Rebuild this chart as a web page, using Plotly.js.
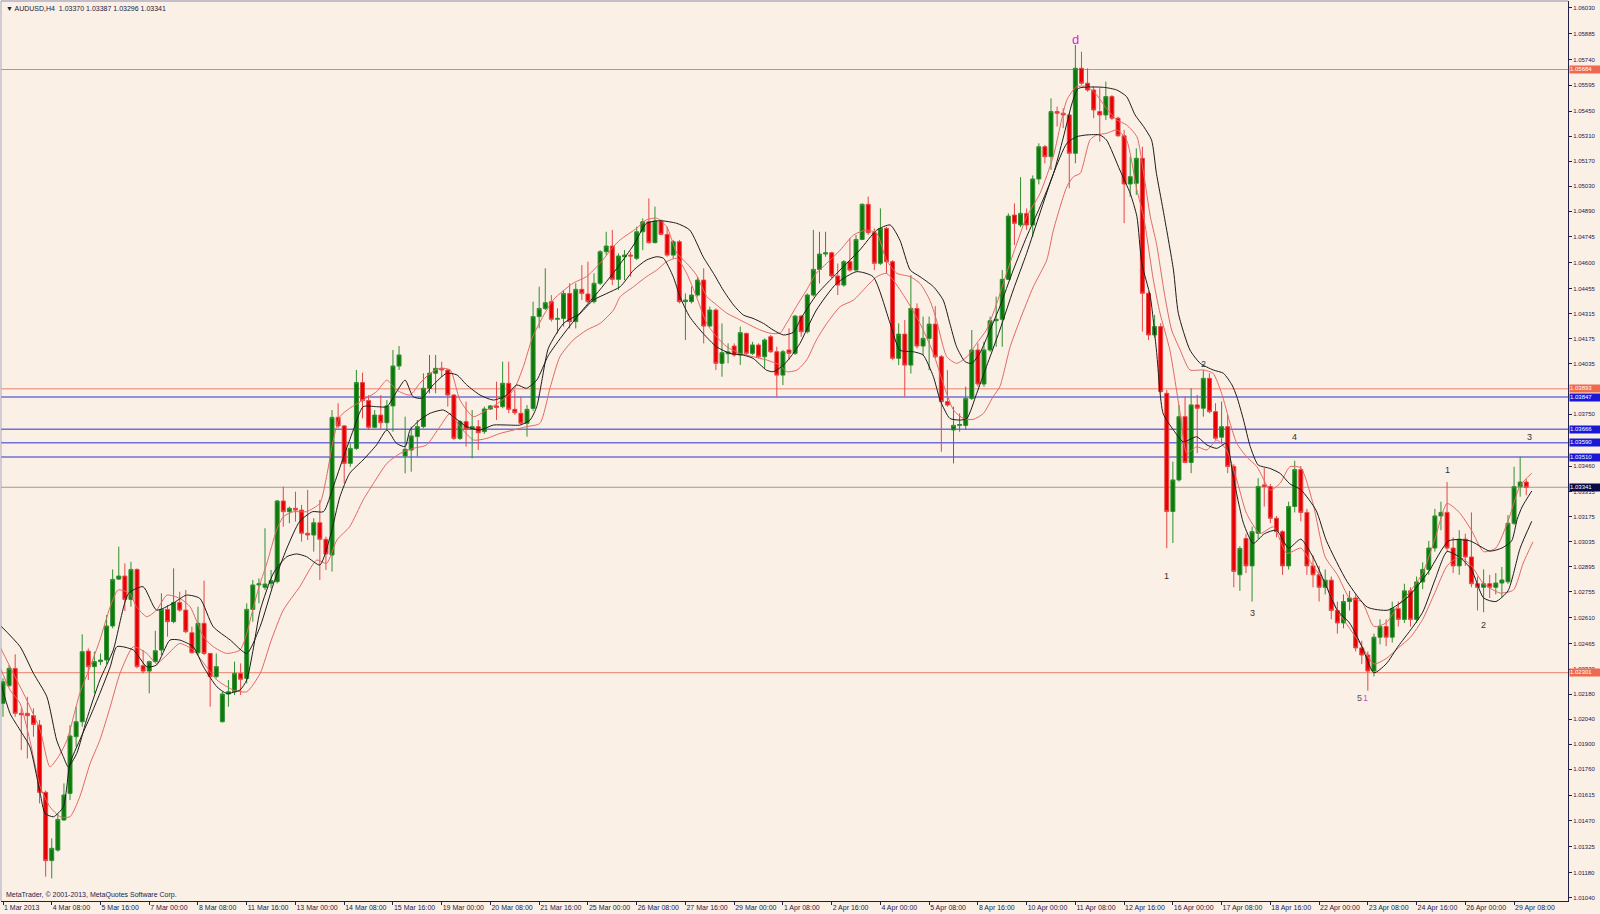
<!DOCTYPE html>
<html><head><meta charset="utf-8">
<script src="https://cdn.plot.ly/plotly-3.0.1.min.js"></script>
<style>html,body{margin:0;padding:0;background:#faf0e6;}#chart{width:1600px;height:914px;}</style>
</head><body><div id="chart"></div>
<script>
// ---- AUDUSD H4 bars, 1 Mar 2013 00:00 .. 29 Apr 2013 16:00 (bar index 0..250) ----
const opens = [
1.02129,1.02228,1.02325,1.02073,1.02073,1.02060,1.02007,1.01630,1.01247,1.01306,
1.01475,1.01624,1.01942,1.02026,1.02422,1.02335,1.02363,1.02372,1.02563,1.02826,
1.02843,1.02712,1.02880,1.02340,1.02310,1.02363,1.02428,1.02656,1.02587,1.02694,
1.02652,1.02525,1.02413,1.02578,1.02409,1.02279,1.02026,1.02181,1.02194,1.02297,
1.02269,1.02656,1.02793,1.02780,1.02802,1.02812,1.03264,1.03204,1.03223,1.03213,
1.03083,1.03073,1.03142,1.03049,1.02961,1.03733,1.03685,1.03475,1.03559,1.03928,
1.03827,1.03677,1.03746,1.03703,1.03797,1.04021,1.03516,1.03550,1.03625,1.03681,
1.03896,1.03980,1.04008,1.03999,1.03858,1.03615,1.03709,1.03666,1.03681,1.03653,
1.03780,1.03797,1.03793,1.03924,1.03778,1.03756,1.03700,1.03783,1.04298,1.04344,
1.04382,1.04283,1.04288,1.04428,1.04270,1.04451,1.04425,1.04382,1.04485,1.04662,
1.04694,1.04507,1.04634,1.04643,1.04625,1.04774,1.04830,1.04713,1.04834,1.04759,
1.04643,1.04718,1.04382,1.04382,1.04419,1.04503,1.04245,1.04335,1.04036,1.04090,
1.04133,1.04083,1.04204,1.04092,1.04139,1.04073,1.04185,1.04101,1.03970,1.04111,
1.04092,1.04301,1.04213,1.04419,1.04563,1.04649,1.04656,1.04526,1.04475,1.04606,
1.04559,1.04731,1.04928,1.04769,1.04597,1.04793,1.04606,1.04064,1.04200,1.04026,
1.04344,1.04133,1.04176,1.04256,1.04073,1.03821,1.03662,1.03688,1.03688,1.03839,
1.04111,1.03920,1.04111,1.04275,1.04283,1.04507,1.04868,1.04812,1.04877,1.04812,
1.05070,1.05251,1.05195,1.05448,1.05439,1.05429,1.05214,1.05691,1.05607,1.05569,
1.05448,1.05429,1.05532,1.05411,1.05312,1.05042,1.05046,1.05186,1.04429,1.04195,
1.04242,1.03868,1.03205,1.03382,1.03737,1.03480,1.03803,1.03784,1.03952,1.03765,
1.03622,1.03681,1.03457,1.02850,1.03054,1.02900,1.03083,1.03354,1.03345,1.03167,
1.03092,1.02900,1.03233,1.03440,1.03200,1.02900,1.02850,1.02780,1.02820,1.02650,
1.02580,1.02700,1.02720,1.02440,1.02400,1.02310,1.02500,1.02560,1.02500,1.02660,
1.02600,1.02760,1.02600,1.02810,1.02880,1.03000,1.03180,1.03200,1.03000,1.02900,
1.03050,1.02950,1.02800,1.02780,1.02800,1.02780,1.02804,1.02811,1.03139,1.03344,
1.03370];
const highs = [
1.02269,1.02344,1.02404,1.02101,1.02166,1.02101,1.02035,1.01640,1.01372,1.01512,
1.01680,1.02007,1.02110,1.02516,1.02437,1.02419,1.02409,1.02624,1.02880,1.03008,
1.02914,1.02923,1.02886,1.02428,1.02368,1.02536,1.02746,1.02680,1.02886,1.02755,
1.02765,1.02559,1.02671,1.02817,1.02412,1.02409,1.02194,1.02260,1.02363,1.02353,
1.02690,1.02821,1.02830,1.03111,1.02877,1.03270,1.03344,1.03232,1.03316,1.03242,
1.03326,1.03167,1.03270,1.03064,1.03774,1.03812,1.03690,1.03587,1.03999,1.03984,
1.03858,1.03774,1.03858,1.03830,1.04111,1.04133,1.03737,1.03681,1.03718,1.03980,
1.04083,1.04083,1.04045,1.04002,1.03862,1.03718,1.03821,1.03774,1.03718,1.03793,
1.03802,1.03933,1.04045,1.04045,1.03886,1.03849,1.03802,1.04382,1.04466,1.04569,
1.04419,1.04344,1.04447,1.04485,1.04485,1.04587,1.04606,1.04541,1.04671,1.04774,
1.04784,1.04653,1.04671,1.04662,1.04802,1.04849,1.04961,1.04915,1.04843,1.04802,
1.04728,1.04728,1.04428,1.04466,1.04522,1.04569,1.04354,1.04344,1.04260,1.04148,
1.04148,1.04242,1.04208,1.04157,1.04148,1.04176,1.04195,1.04129,1.04111,1.04232,
1.04307,1.04307,1.04428,1.04784,1.04774,1.04774,1.04662,1.04596,1.04615,1.04737,
1.04756,1.04933,1.04971,1.04793,1.04905,1.04802,1.04615,1.04260,1.04279,1.04531,
1.04372,1.04298,1.04298,1.04357,1.04083,1.03998,1.03793,1.03755,1.03905,1.04223,
1.04148,1.04157,1.04298,1.04410,1.04559,1.04877,1.04933,1.05080,1.04905,1.05090,
1.05270,1.05261,1.05522,1.05476,1.05467,1.05439,1.05822,1.05784,1.05691,1.05588,
1.05579,1.05616,1.05541,1.05420,1.05345,1.05195,1.05242,1.05251,1.04438,1.04308,
1.04261,1.03887,1.03485,1.03803,1.03850,1.03896,1.03859,1.03999,1.03980,1.03812,
1.03822,1.03747,1.03470,1.03010,1.03080,1.03120,1.03392,1.03448,1.03360,1.03180,
1.03100,1.03260,1.03490,1.03460,1.03220,1.02960,1.02900,1.02880,1.02840,1.02700,
1.02740,1.02760,1.02740,1.02480,1.02420,1.02520,1.02600,1.02600,1.02700,1.02700,
1.02800,1.02780,1.02840,1.02920,1.03040,1.03220,1.03260,1.03370,1.03060,1.03100,
1.03080,1.03200,1.02840,1.02880,1.02850,1.02860,1.02894,1.03185,1.03456,1.03512,
1.03387];
const lows = [
1.02054,1.02222,1.02054,1.01867,1.01820,1.01942,1.01568,1.01157,1.01147,1.01297,
1.01470,1.01587,1.01886,1.01998,1.02260,1.02185,1.02344,1.02350,1.02550,1.02821,
1.02647,1.02671,1.02325,1.02297,1.02185,1.02357,1.02400,1.02503,1.02578,1.02643,
1.02522,1.02409,1.02400,1.02400,1.02110,1.02269,1.02021,1.02110,1.02176,1.02176,
1.02241,1.02587,1.02690,1.02765,1.02774,1.02802,1.03120,1.03139,1.03148,1.03036,
1.03045,1.02980,1.02821,1.02877,1.02868,1.03672,1.03363,1.03456,1.03550,1.03728,
1.03662,1.03672,1.03666,1.03662,1.03653,1.03999,1.03419,1.03428,1.03513,1.03672,
1.03868,1.03868,1.03960,1.03793,1.03606,1.03606,1.03569,1.03503,1.03550,1.03640,
1.03775,1.03718,1.03784,1.03756,1.03747,1.03690,1.03625,1.03770,1.04232,1.04335,
1.04270,1.04204,1.04242,1.04232,1.04232,1.04391,1.04372,1.04372,1.04475,1.04643,
1.04475,1.04447,1.04503,1.04522,1.04615,1.04671,1.04708,1.04708,1.04755,1.04634,
1.04625,1.04372,1.04167,1.04372,1.04410,1.04148,1.04240,1.03998,1.03961,1.04036,
1.04073,1.04027,1.04083,1.04083,1.04064,1.04008,1.04095,1.03849,1.03914,1.04055,
1.04083,1.04185,1.04204,1.04410,1.04484,1.04634,1.04513,1.04419,1.04466,1.04550,
1.04550,1.04727,1.04756,1.04559,1.04588,1.04541,1.04055,1.04026,1.03849,1.03979,
1.04120,1.04083,1.03998,1.04064,1.03540,1.03793,1.03475,1.03653,1.03662,1.03830,
1.03905,1.03905,1.04101,1.04129,1.04129,1.04503,1.04699,1.04800,1.04784,1.04746,
1.05040,1.05158,1.05121,1.05364,1.05355,1.05018,1.05158,1.05598,1.05560,1.05411,
1.05279,1.05401,1.05401,1.05308,1.04822,1.04971,1.04981,1.04214,1.04167,1.04180,
1.03868,1.02999,1.03028,1.03373,1.03476,1.03420,1.03532,1.03737,1.03756,1.03607,
1.03588,1.03420,1.02780,1.02760,1.02860,1.02700,1.03050,1.03233,1.03140,1.03060,
1.02850,1.02880,1.03200,1.03150,1.02850,1.02780,1.02700,1.02740,1.02600,1.02520,
1.02550,1.02650,1.02420,1.02350,1.02200,1.02280,1.02460,1.02450,1.02470,1.02560,
1.02580,1.02560,1.02580,1.02770,1.02850,1.02980,1.03100,1.02980,1.02860,1.02850,
1.02900,1.02780,1.02650,1.02640,1.02720,1.02740,1.02726,1.02800,1.03130,1.03288,
1.03296];
const closes = [
1.02250,1.02325,1.02073,1.02065,1.02060,1.02011,1.01630,1.01247,1.01316,1.01478,
1.01615,1.01946,1.02026,1.02419,1.02335,1.02363,1.02372,1.02563,1.02824,1.02843,
1.02712,1.02880,1.02335,1.02310,1.02363,1.02424,1.02656,1.02587,1.02694,1.02652,
1.02531,1.02413,1.02578,1.02409,1.02279,1.02335,1.02181,1.02194,1.02297,1.02264,
1.02656,1.02793,1.02800,1.02798,1.02817,1.03264,1.03204,1.03223,1.03213,1.03083,
1.03073,1.03142,1.03049,1.02967,1.03733,1.03685,1.03475,1.03559,1.03928,1.03827,
1.03677,1.03746,1.03703,1.03797,1.04021,1.04083,1.03554,1.03629,1.03681,1.03896,
1.03980,1.04008,1.03999,1.03858,1.03615,1.03709,1.03666,1.03681,1.03647,1.03780,
1.03797,1.03789,1.03924,1.03778,1.03759,1.03700,1.03778,1.04298,1.04344,1.04376,
1.04283,1.04288,1.04428,1.04270,1.04451,1.04428,1.04382,1.04485,1.04662,1.04694,
1.04507,1.04638,1.04643,1.04638,1.04774,1.04830,1.04713,1.04834,1.04759,1.04643,
1.04718,1.04382,1.04391,1.04419,1.04503,1.04245,1.04335,1.04036,1.04096,1.04100,
1.04083,1.04208,1.04092,1.04139,1.04073,1.04167,1.04101,1.03970,1.04101,1.04092,
1.04301,1.04213,1.04419,1.04563,1.04649,1.04656,1.04526,1.04475,1.04606,1.04559,
1.04731,1.04928,1.04769,1.04597,1.04793,1.04606,1.04064,1.04200,1.04026,1.04344,
1.04133,1.04176,1.04256,1.04073,1.03821,1.03802,1.03688,1.03693,1.03839,1.04111,
1.03920,1.04111,1.04275,1.04283,1.04507,1.04862,1.04821,1.04877,1.04812,1.05070,
1.05251,1.05195,1.05448,1.05439,1.05429,1.05214,1.05691,1.05607,1.05569,1.05457,
1.05429,1.05532,1.05411,1.05312,1.05042,1.05083,1.05186,1.04429,1.04195,1.04242,
1.03878,1.03205,1.03382,1.03737,1.03480,1.03803,1.03784,1.03952,1.03765,1.03616,
1.03681,1.03457,1.02869,1.02998,1.02900,1.03092,1.03345,1.03345,1.03167,1.03092,
1.02900,1.03233,1.03440,1.03200,1.02900,1.02850,1.02780,1.02820,1.02650,1.02580,
1.02700,1.02720,1.02440,1.02400,1.02310,1.02500,1.02560,1.02500,1.02660,1.02600,
1.02760,1.02600,1.02810,1.02880,1.03000,1.03180,1.03200,1.03000,1.02900,1.03050,
1.02950,1.02800,1.02780,1.02800,1.02780,1.02804,1.02821,1.03139,1.03344,1.03370,
1.03341];

// ---- indicator lines (bar position, price) ----
const blackUpperBar = [-0.5,2.8,5.0,7.2,8.8,9.9,10.7,12.1,13.7,15.9,18.1,20.6,23.0,25.2,27.9,30.1,32.3,34.5,37.3,40.0,
42.2,44.4,46.6,48.7,50.8,52.6,54.2,55.9,57.5,59.1,61.3,63.0,64.6,66.0,67.3,68.7,70.6,72.8,74.5,76.1,78.3,80.5,82.7,
84.3,85.9,87.6,89.5,92.0,95.0,98.0,101.0,103.5,105.6,107.8,110.6,112.7,114.9,116.6,118.2,119.9,121.5,123.1,124.8,
126.4,128.1,129.7,131.0,133.5,136.3,140.6,143.4,145.6,147.2,148.9,150.5,152.7,154.3,155.4,156.5,157.9,159.0,160.3,
162.0,163.6,165.8,168.0,170.2,172.4,174.0,175.5,176.5,180.6,182.8,184.4,185.8,187.2,188.5,189.3,190.4,192.1,192.9,
194.8,196.5,198.6,200.3,201.7,202.5,203.6,204.7,206.0,207.9,209.6,211.2,213.0,215.5,217.2,220.6,223.9,227.3,230.6,
234.0,237.3,240.7,244.0,246.0,247.6,248.5,249.3,250.9];
const blackUpperVal = [1.02568,1.02447,1.02297,1.02166,1.01923,1.01830,1.01773,1.01848,1.02035,1.02260,1.02428,1.02746,
1.02783,1.02652,1.02690,1.02736,1.02718,1.02559,1.02484,1.02409,
1.02560,1.02800,1.03000,1.03150,1.03204,1.03204,1.03344,1.03512,1.03662,1.03793,1.03793,1.03793,1.03877,1.03942,
1.03849,1.03840,1.03915,1.03980,1.03971,1.03915,1.03858,1.03830,1.03858,
1.03915,1.03896,1.03942,1.04080,1.04200,1.04330,1.04450,1.04580,1.04700,1.04821,1.04836,1.04821,1.04784,1.04634,
1.04541,1.04447,1.04363,1.04307,1.04288,1.04260,
1.04223,1.04195,1.04210,1.04290,1.04420,1.04522,1.04671,1.04783,1.04812,1.04727,1.04559,1.04522,1.04466,1.04391,
1.04260,1.04129,1.04045,1.04036,1.04092,
1.04223,1.04354,1.04559,1.04746,1.04914,1.05100,1.05300,1.05500,1.05578,1.05584,1.05569,1.05532,1.05429,1.05364,
1.05289,1.05102,1.04896,1.04559,1.04316,
1.04111,1.04036,1.03999,1.03980,1.03915,1.03849,1.03718,1.03569,1.03466,1.03447,1.03419,1.03360,1.03327,1.03212,
1.03041,1.02812,1.02669,1.02652,1.02726,
1.02869,1.03041,1.03041,1.02983,1.03000,1.03040,1.03160,1.03230,1.03320];

const blackLowerBar = [-0.5,1.15,2.8,4.4,6.1,6.9,8.3,9.9,11.0,12.6,14.3,15.9,17.6,18.7,21.4,23.6,25.2,27.4,29.0,31.2,
32.9,35.1,36.7,38.9,40.0,41.0,42.2,44.4,46.6,48.2,49.8,52.0,53.7,55.3,56.9,59.1,61.3,63.0,64.6,66.0,66.8,68.4,70.1,
72.3,73.9,76.1,78.3,80.5,82.7,84.9,86.5,87.6,88.5,89.5,92.0,94.7,96.9,99.1,101.3,103.5,105.6,107.3,108.4,110.0,
111.1,112.7,114.9,117.1,119.3,121.5,123.1,125.3,126.4,128.1,129.7,130.8,133.5,136.8,140.1,142.8,145.6,147.2,149.4,
151.0,152.7,153.8,155.4,157.1,158.2,159.8,161.4,163.6,165.8,168.0,170.2,172.4,174.6,176.2,177.9,180.0,181.1,183.3,
185.0,186.1,186.9,188.3,189.3,190.4,192.1,193.7,195.9,197.6,199.2,200.8,201.9,203.6,205.2,207.0,209.0,211.0,213.0,
215.0,217.0,219.0,221.0,223.0,225.0,227.0,229.0,231.0,233.0,235.0,237.0,239.0,241.0,243.0,245.0,247.0,249.0,250.9];
const blackLowerVal = [1.02260,1.02073,1.01979,1.01886,1.01624,1.01512,1.01493,1.01549,1.01792,1.01923,1.02054,1.02185,
1.02334,1.02447,1.02428,1.02334,1.02344,1.02484,1.02484,1.02447,
1.02334,1.02222,1.02185,1.02204,1.02260,1.02420,1.02650,1.02860,1.02952,1.02967,1.02952,1.02905,1.03064,1.03288,
1.03419,1.03494,1.03578,1.03662,1.03587,1.03569,1.03662,1.03718,1.03756,
1.03774,1.03737,1.03681,1.03662,1.03690,1.03690,1.03690,1.03718,1.03793,1.03950,1.04120,1.04260,1.04316,1.04391,
1.04428,1.04466,1.04559,1.04615,1.04634,1.04625,1.04522,
1.04410,1.04297,1.04204,1.04129,1.04092,1.04082,1.04064,1.03998,1.03989,1.04026,1.04092,1.04148,1.04335,1.04484,
1.04550,1.04522,1.04260,1.04110,1.04101,
1.04083,1.03961,1.03830,1.03727,1.03718,1.03727,1.03867,1.04017,1.04223,1.04447,1.04653,1.04880,1.05100,1.05270,
1.05307,1.05317,1.05317,1.05289,1.05120,
1.04989,1.04859,1.04597,1.04410,1.04111,1.03755,1.03662,1.03596,1.03624,1.03578,1.03559,1.03587,1.03400,1.03138,
1.03026,1.03080,1.03100,1.03000,1.03050,
1.02950,1.02800,1.02650,1.02580,1.02450,1.02300,1.02350,1.02450,1.02540,1.02640,1.02820,1.02980,1.02950,1.02880,
1.02720,1.02700,1.02760,1.03000,1.03150];

const redUpperBar = [-0.5,1.7,3.9,6.1,7.7,9.1,10.5,12.6,14.3,15.9,17.6,18.9,20.8,21.9,23.6,25.2,26.9,29.0,30.7,32.9,
34.5,36.7,38.9,40.0,41.1,42.2,43.3,44.9,46.0,47.7,49.8,52.0,53.1,54.2,55.3,56.9,59.1,61.3,63.0,64.6,66.8,68.4,70.1,
71.7,73.4,75.0,77.2,79.4,81.6,83.8,85.4,87.0,90.3,93.6,95.8,98.0,100.2,101.3,104.0,105.6,107.3,108.9,110.6,112.2,
113.8,115.5,117.1,118.8,120.4,122.0,124.2,125.9,127.5,128.6,130.3,131.9,133.5,135.2,137.4,139.6,141.7,143.4,145.0,
146.7,148.9,150.5,152.1,153.2,154.9,156.5,158.2,159.8,161.4,163.1,164.7,166.4,168.0,170.2,172.4,174.6,176.2,177.9,
179.5,181.1,182.8,184.4,186.1,187.2,188.3,189.3,190.7,191.8,193.2,194.8,197.0,198.6,200.0,201.4,202.5,204.1,205.8,
208.0,209.6,211.2,213.0,215.0,217.0,219.0,221.0,223.0,225.0,227.0,229.0,231.0,233.0,235.0,237.0,239.0,241.0,243.0,
245.0,247.0,249.0,250.9];
const redUpperVal = [1.02447,1.02297,1.02148,1.01979,1.01773,1.01830,1.01923,1.02185,1.02334,1.02484,1.02671,1.02765,
1.02746,1.02671,1.02615,1.02652,1.02736,1.02718,1.02671,1.02503,
1.02447,1.02409,1.02428,1.02520,1.02671,1.02802,1.02914,1.03101,1.03176,1.03204,1.03204,1.03251,1.03400,1.03606,
1.03737,1.03784,1.03830,1.03877,1.03942,1.03886,1.03858,1.03924,1.03980,
1.04008,1.03999,1.03830,1.03737,1.03774,1.03821,1.03886,1.04017,1.04190,1.04392,1.04486,1.04523,1.04598,1.04691,
1.04729,1.04794,1.04841,1.04850,1.04804,1.04654,1.04598,
1.04532,1.04411,1.04364,1.04317,1.04289,1.04261,1.04224,1.04205,1.04205,1.04261,1.04360,1.04448,1.04542,1.04597,
1.04671,1.04756,1.04784,1.04765,1.04615,
1.04541,1.04522,1.04484,1.04391,1.04279,1.04073,1.04036,1.04073,1.04148,1.04223,1.04372,1.04541,1.04709,1.04858,
1.04989,1.05200,1.05513,1.05588,1.05588,
1.05541,1.05466,1.05401,1.05373,1.05307,1.05102,1.04859,1.04709,1.04410,1.04223,1.04111,1.03999,1.03999,1.03980,
1.03868,1.03699,1.03587,1.03512,1.03456,
1.03325,1.03363,1.03456,1.03450,1.03250,1.02950,1.02850,1.02720,1.02700,1.02560,1.02580,1.02680,1.02760,1.02860,
1.03050,1.03250,1.03200,1.03100,1.02980,
1.03000,1.03150,1.03350,1.03420];

const redLowerBar = [-0.5,1.15,2.8,4.4,6.1,7.7,9.4,11.0,12.6,14.3,15.9,17.6,19.2,21.4,23.6,25.2,26.9,29.0,31.2,33.4,
35.1,37.8,40.0,42.2,44.0,46.0,48.7,51.5,53.1,54.8,56.9,59.1,60.8,63.0,65.2,67.3,69.5,71.7,73.4,75.0,77.2,79.4,81.6,
83.8,85.9,88.1,89.8,91.4,93.6,95.8,98.0,100.2,101.3,103.5,105.6,107.3,108.9,110.6,112.2,113.8,115.5,117.1,118.8,
120.95,123.1,125.3,127.5,128.6,130.3,131.9,133.5,135.2,137.4,139.6,141.7,143.4,145.0,146.1,148.3,150.5,152.7,154.3,
156.0,157.6,159.2,160.9,162.5,163.6,165.3,166.9,169.1,171.3,172.4,174.6,175.7,176.8,178.4,179.5,181.1,182.8,184.4,
186.1,187.2,188.8,189.9,191.5,193.2,194.3,195.9,197.6,199.2,200.8,202.5,204.1,206.3,208.5,210.7,213.0,215.0,217.0,
219.0,221.0,223.0,225.0,227.0,229.0,231.0,233.0,235.0,237.0,239.0,241.0,243.0,245.7,247.9,249.5,251.1];
const redLowerVal = [1.02334,1.02204,1.02129,1.01923,1.01661,1.01549,1.01493,1.01493,1.01605,1.01792,1.01923,1.02110,
1.02297,1.02447,1.02409,1.02353,1.02400,1.02465,1.02428,1.02334,
1.02260,1.02204,1.02194,1.02297,1.02480,1.02652,1.02783,1.02933,1.02914,1.03045,1.03120,1.03269,1.03363,1.03475,
1.03531,1.03559,1.03578,1.03681,1.03756,1.03681,1.03606,1.03615,1.03643,
1.03662,1.03681,1.03699,1.03900,1.04073,1.04167,1.04223,1.04260,1.04335,1.04410,1.04466,1.04522,1.04559,1.04606,
1.04625,1.04541,1.04410,1.04260,1.04185,1.04129,
1.04092,1.04073,1.04055,1.04026,1.03989,1.03998,1.04055,1.04167,1.04260,1.04354,1.04391,1.04466,1.04522,1.04541,
1.04503,1.04391,1.04260,1.04092,1.03923,
1.03774,1.03727,1.03721,1.03755,1.03849,1.03905,1.04129,1.04279,1.04466,1.04615,1.04784,1.05027,1.05083,1.05102,
1.05289,1.05317,1.05326,1.05345,1.05289,
1.05008,1.04859,1.04503,1.04316,1.04111,1.03755,1.03531,1.03568,1.03550,1.03606,1.03550,1.03381,1.03194,1.03082,
1.03119,1.02970,1.03000,1.02900,1.02800,
1.02650,1.02550,1.02450,1.02350,1.02380,1.02440,1.02500,1.02600,1.02750,1.02900,1.02950,1.02900,1.02800,1.02748,
1.02765,1.02916,1.03035];

// time-axis labels, one every 8 bars
const timeLabels = ['1 Mar 2013','4 Mar 08:00','5 Mar 16:00','7 Mar 00:00','8 Mar 08:00','11 Mar 16:00',
'13 Mar 00:00','14 Mar 08:00','15 Mar 16:00','19 Mar 00:00','20 Mar 08:00','21 Mar 16:00','25 Mar 00:00',
'26 Mar 08:00','27 Mar 16:00','29 Mar 00:00','1 Apr 08:00','2 Apr 16:00','4 Apr 00:00','5 Apr 08:00',
'8 Apr 16:00','10 Apr 00:00','11 Apr 08:00','12 Apr 16:00','16 Apr 00:00','17 Apr 08:00','18 Apr 16:00',
'22 Apr 00:00','23 Apr 08:00','24 Apr 16:00','26 Apr 00:00','29 Apr 08:00'];
const barsPerLabel = 8;

// price-scale labels (1.03890 and 1.03605 sit under the level boxes)
const priceTicks = [1.06030,1.05885,1.05740,1.05595,1.05450,1.05310,1.05170,1.05030,1.04890,1.04745,
1.04600,1.04455,1.04315,1.04175,1.04035,1.03750,1.03460,1.03315,1.03175,1.03035,
1.02895,1.02755,1.02610,1.02465,1.02320,1.02180,1.02040,1.01900,1.01760,1.01615,1.01470,1.01325,
1.01180,1.01040];

// horizontal levels
const levelPrices = [1.05684,1.03893,1.03847,1.03666,1.03590,1.03510,1.03341,1.02301];
const levelKinds  = ['res','res','blue','blue','blue','blue','bid','res'];

// wave labels
const waveText  = ['d','2','1','3','4','5','1','1','2','3'];
const waveBar   = [176,197,191,205,212,222.6,223.6,237,243,250.6];
const wavePrice = [1.05853,1.04030,1.02846,1.02634,1.03625,1.02159,1.02159,1.03436,1.02571,1.03625];
const waveColor = ['#e020e0','#333','#333','#333','#333','#555','#d050d0','#333','#333','#333'];

const headerText = '\u25BC AUDUSD,H4  1.03370 1.03387 1.03296 1.03341';
const footerText = 'MetaTrader, \u00A9 2001-2013, MetaQuotes Software Corp.';

// ---------------------------------------------------------------
const idx = opens.map((_, i) => i);
const tickVals = timeLabels.map((_, k) => k * barsPerLabel);
const FONT = 'Liberation Sans, Arial, sans-serif';

function lineTrace(xs, ys, color) {
  return {type: 'scatter', mode: 'lines', x: xs, y: ys, hoverinfo: 'skip', showlegend: false,
    line: {color: color, width: 1, shape: 'spline', smoothing: 0.6}};
}

const traces = [{
  type: 'candlestick', x: idx, open: opens, high: highs, low: lows, close: closes,
  increasing: {line: {color: '#2f8f2f', width: 1}, fillcolor: '#0b7a0b'},
  decreasing: {line: {color: '#e64646', width: 1}, fillcolor: '#e80000'},
  whiskerwidth: 0, hoverinfo: 'skip', showlegend: false
},
  lineTrace(redLowerBar, redLowerVal, 'rgb(226,104,100)'),
  lineTrace(redUpperBar, redUpperVal, 'rgb(226,104,100)'),
  lineTrace(blackLowerBar, blackLowerVal, 'rgb(28,28,28)'),
  lineTrace(blackUpperBar, blackUpperVal, 'rgb(28,28,28)')
];

const levelStyle = {
  res:  {color: 'rgb(236,128,108)', width: 1, bg: 'rgb(240,104,78)', fg: '#ffffff'},
  blue: {color: 'rgb(112,112,214)', width: 1.5, bg: 'rgb(24,24,214)', fg: '#ffffff'},
  bid:  {color: 'rgb(160,152,150)', width: 1, bg: 'rgb(10,10,70)', fg: '#ffffff'}
};

const shapes = levelPrices.map((p, k) => ({
  type: 'line', xref: 'paper', x0: 0, x1: 1, yref: 'y', y0: p, y1: p,
  line: {color: levelStyle[levelKinds[k]].color, width: levelStyle[levelKinds[k]].width}, layer: 'below'
}));
shapes.push({type: 'line', xref: 'paper', yref: 'paper', x0: 0, x1: 1, y0: 1, y1: 1,
  line: {color: '#8c8cac', width: 1}});
shapes.push({type: 'line', xref: 'paper', yref: 'paper', x0: 0, x1: 0, y0: 0, y1: 1,
  line: {color: '#a8a8c0', width: 1}});

const annotations = levelPrices.map((p, k) => ({
  xref: 'paper', x: 1, xanchor: 'left', xshift: 1, yref: 'y', y: p, yanchor: 'middle',
  text: p.toFixed(5), showarrow: false, bgcolor: levelStyle[levelKinds[k]].bg,
  font: {family: FONT, size: 6, color: levelStyle[levelKinds[k]].fg},
  width: 30, height: 6.5, align: 'left', borderpad: 0
}));
waveText.forEach((t, k) => annotations.push({
  x: waveBar[k], y: wavePrice[k], xref: 'x', yref: 'y', text: t, showarrow: false,
  font: {family: FONT, size: t === 'd' ? 13 : 9, color: waveColor[k]}
}));
annotations.push({xref: 'paper', yref: 'paper', x: 0, y: 1, xanchor: 'left', yanchor: 'top',
  xshift: 3, yshift: -2, text: headerText, showarrow: false,
  font: {family: FONT, size: 7, color: '#1a1a40'}});
annotations.push({xref: 'paper', yref: 'paper', x: 0, y: 0, xanchor: 'left', yanchor: 'bottom',
  xshift: 3, yshift: 0, text: footerText, showarrow: false,
  font: {family: FONT, size: 7, color: '#1a1a50'}});

const layout = {
  width: 1600, height: 914,
  margin: {l: 1, r: 32, t: 1, b: 13, pad: 0},
  paper_bgcolor: '#faf0e6', plot_bgcolor: '#faf0e6',
  showlegend: false, dragmode: false,
  boxgap: 0.35, boxgroupgap: 0,
  xaxis: {
    range: [-0.328, 256.85], showgrid: false, zeroline: false,
    tickmode: 'array', tickvals: tickVals, ticktext: timeLabels,
    ticks: 'outside', ticklen: 3, tickcolor: '#20204a', tickwidth: 1,
    ticklabelposition: 'outside right', tickangle: 0, automargin: false,
    showline: true, linecolor: '#20204a', linewidth: 1,
    tickfont: {family: FONT, size: 7, color: '#202050'},
    rangeslider: {visible: false}, fixedrange: true
  },
  yaxis: {
    side: 'right', range: [1.010205, 1.060682], showgrid: false, zeroline: false,
    tickmode: 'array', tickvals: priceTicks, ticktext: priceTicks.map(v => v.toFixed(5)),
    ticks: 'outside', ticklen: 3, tickcolor: '#20204a', tickwidth: 1,
    showline: true, linecolor: '#20204a', linewidth: 1, automargin: false,
    tickfont: {family: FONT, size: 6, color: '#202050'},
    fixedrange: true
  },
  shapes: shapes, annotations: annotations
};

Plotly.newPlot('chart', traces, layout, {displayModeBar: false, staticPlot: true});
</script></body></html>
